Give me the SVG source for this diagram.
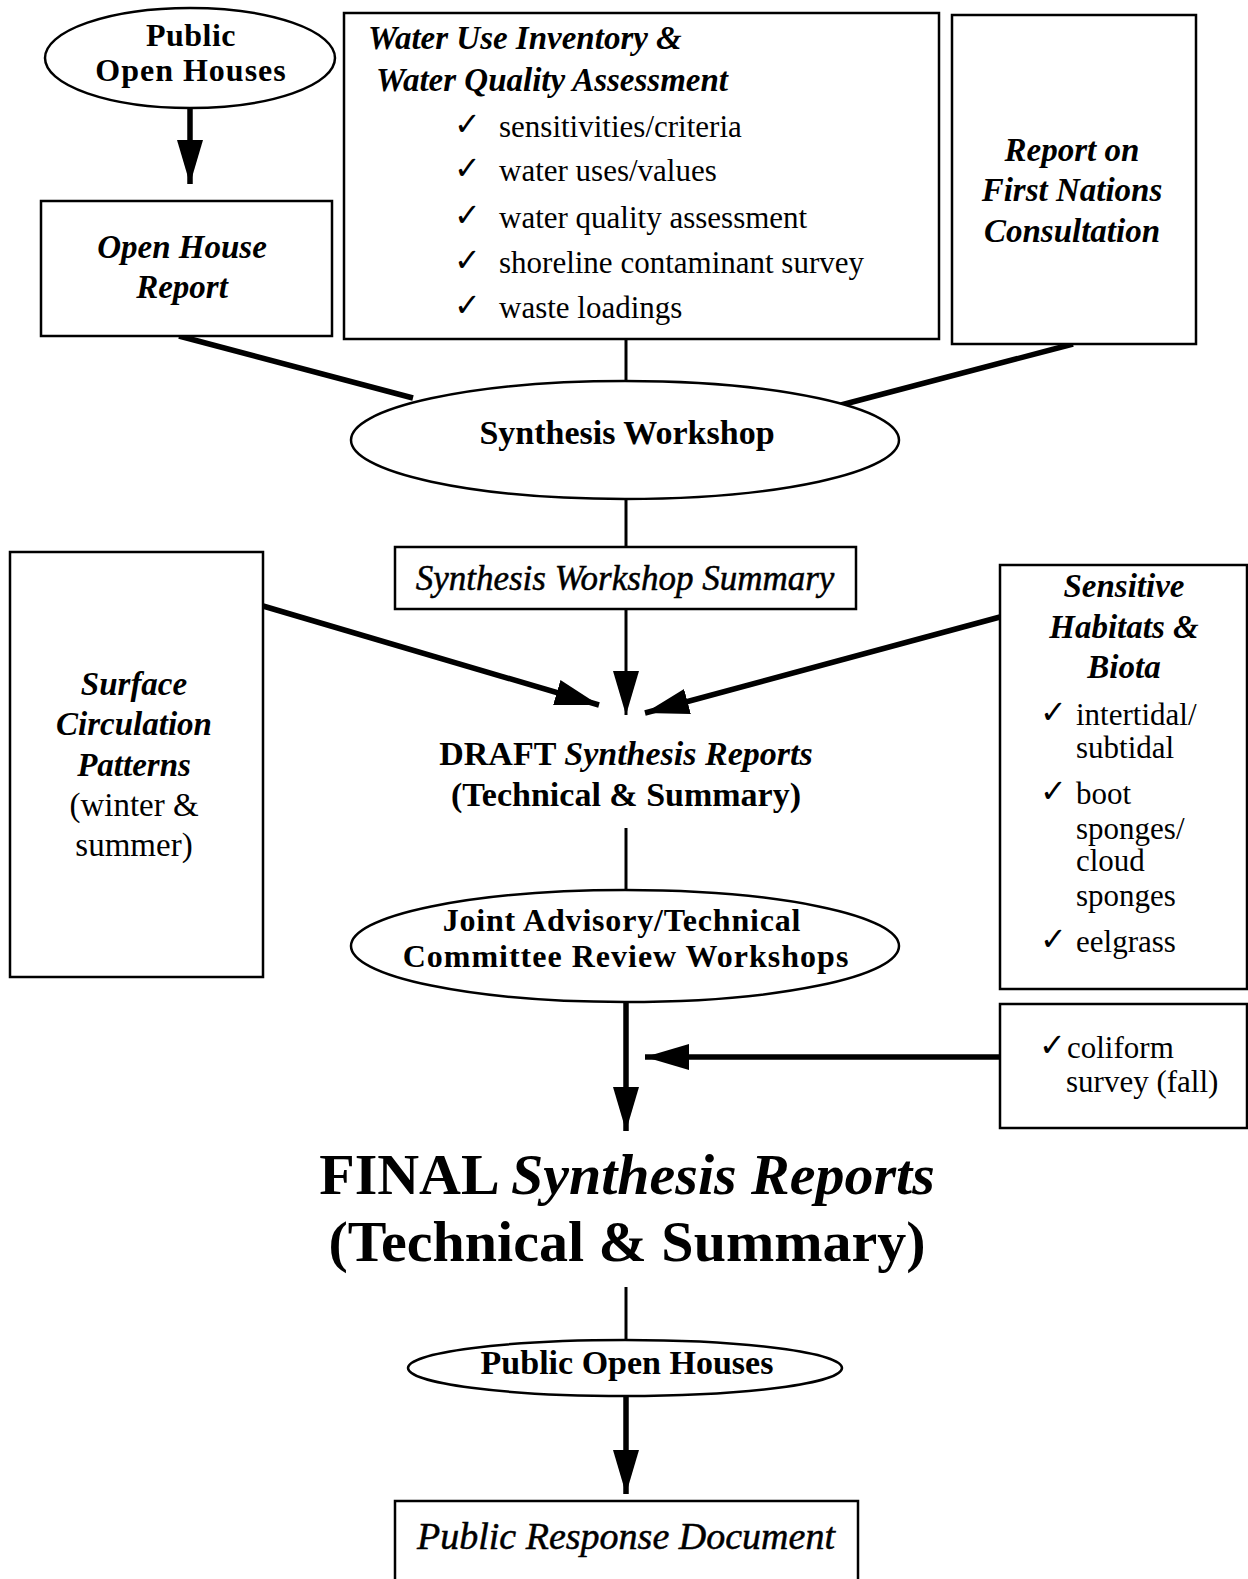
<svg xmlns="http://www.w3.org/2000/svg" width="1248" height="1579" viewBox="0 0 1248 1579">
<style>
  .box { fill: #fff; stroke: #000; stroke-width: 2.5; }
  .ell { fill: #fff; stroke: #000; stroke-width: 2.5; }
  .t { font-family: "Liberation Serif", "Times New Roman", serif; fill: #000; }
  .bi { font-weight: bold; font-style: italic; }
  .b { font-weight: bold; }
  .i { font-style: italic; }
  .chk { font-family: "DejaVu Sans", sans-serif; font-size: 32px; }
  .thick { stroke: #000; stroke-width: 5.5; fill: none; }
  .thin { stroke: #000; stroke-width: 3; fill: none; }
</style>
<defs>
  <marker id="ah" markerUnits="userSpaceOnUse" markerWidth="46" markerHeight="28" refX="44" refY="13" orient="auto">
    <path d="M0,0 L44,13 L0,26 z" fill="#000"/>
  </marker>
</defs>
<rect width="1248" height="1579" fill="#fff"/>

<g id="connectors">
  <line class="thick" x1="190" y1="108" x2="190" y2="184" marker-end="url(#ah)"/>
  <line class="thick" x1="179" y1="336" x2="413" y2="398"/>
  <line class="thin" x1="626" y1="339" x2="626" y2="381"/>
  <line class="thick" x1="1073" y1="344" x2="841" y2="405"/>
  <line class="thin" x1="626" y1="499" x2="626" y2="547"/>
  <line class="thin" x1="626" y1="609" x2="626" y2="715" marker-end="url(#ah)"/>
  <line class="thick" x1="263" y1="606" x2="599" y2="705" marker-end="url(#ah)"/>
  <line class="thick" x1="1000" y1="617" x2="645" y2="713" marker-end="url(#ah)"/>
  <line class="thin" x1="626" y1="828" x2="626" y2="890"/>
  <line class="thick" x1="626" y1="1002" x2="626" y2="1131" marker-end="url(#ah)"/>
  <line class="thick" x1="1000" y1="1057" x2="645" y2="1057" marker-end="url(#ah)"/>
  <line class="thin" x1="626" y1="1287" x2="626" y2="1340"/>
  <line class="thick" x1="626" y1="1396" x2="626" y2="1494" marker-end="url(#ah)"/>
</g>

<g id="public-open-houses-top">
  <ellipse class="ell" cx="190" cy="58" rx="145" ry="50"/>
  <text class="t b" font-size="32" letter-spacing="0.5" text-anchor="middle" x="191" y="46">Public</text>
  <text class="t b" font-size="32" letter-spacing="1" text-anchor="middle" x="191" y="81">Open Houses</text>
</g>

<g id="open-house-report">
  <rect class="box" x="41" y="201" width="291" height="135"/>
  <text class="t bi" font-size="33" text-anchor="middle" x="182" y="258">Open House</text>
  <text class="t bi" font-size="33" text-anchor="middle" x="182" y="298">Report</text>
</g>

<g id="water-use">
  <rect class="box" x="344" y="13" width="595" height="326"/>
  <text class="t bi" font-size="33" x="368" y="49">Water Use Inventory &amp;</text>
  <text class="t bi" font-size="33" x="376" y="91">Water Quality Assessment</text>
  <text class="t chk" x="454" y="135">✓</text>
  <text class="t" font-size="31" x="499" y="137">sensitivities/criteria</text>
  <text class="t chk" x="454" y="179">✓</text>
  <text class="t" font-size="31" x="499" y="181">water uses/values</text>
  <text class="t chk" x="454" y="226">✓</text>
  <text class="t" font-size="31" x="499" y="228">water quality assessment</text>
  <text class="t chk" x="454" y="271">✓</text>
  <text class="t" font-size="31" x="499" y="273">shoreline contaminant survey</text>
  <text class="t chk" x="454" y="316">✓</text>
  <text class="t" font-size="31" x="499" y="318">waste loadings</text>
</g>

<g id="first-nations">
  <rect class="box" x="952" y="15" width="244" height="329"/>
  <text class="t bi" font-size="33" text-anchor="middle" x="1072" y="161">Report on</text>
  <text class="t bi" font-size="33" text-anchor="middle" x="1072" y="201">First Nations</text>
  <text class="t bi" font-size="33" text-anchor="middle" x="1072" y="242">Consultation</text>
</g>

<g id="synthesis-workshop">
  <ellipse class="ell" cx="625" cy="440" rx="274" ry="59"/>
  <text class="t b" font-size="34" text-anchor="middle" x="627" y="444">Synthesis Workshop</text>
</g>

<g id="synthesis-workshop-summary">
  <rect class="box" x="395" y="547" width="461" height="62"/>
  <text class="t i" font-size="35" stroke="#000" stroke-width="0.5" text-anchor="middle" x="625" y="590">Synthesis Workshop Summary</text>
</g>

<g id="surface-circulation">
  <rect class="box" x="10" y="552" width="253" height="425"/>
  <text class="t bi" font-size="33" text-anchor="middle" x="134" y="695">Surface</text>
  <text class="t bi" font-size="33" text-anchor="middle" x="134" y="735">Circulation</text>
  <text class="t bi" font-size="33" text-anchor="middle" x="134" y="776">Patterns</text>
  <text class="t" font-size="33" text-anchor="middle" x="134" y="816">(winter &amp;</text>
  <text class="t" font-size="33" text-anchor="middle" x="134" y="856">summer)</text>
</g>

<g id="sensitive-habitats">
  <rect class="box" x="1000" y="565" width="247" height="424"/>
  <text class="t bi" font-size="33" text-anchor="middle" x="1124" y="597">Sensitive</text>
  <text class="t bi" font-size="33" text-anchor="middle" x="1124" y="638">Habitats &amp;</text>
  <text class="t bi" font-size="33" text-anchor="middle" x="1124" y="678">Biota</text>
  <text class="t chk" x="1040" y="723">✓</text>
  <text class="t" font-size="31" x="1076" y="725">intertidal/</text>
  <text class="t" font-size="31" x="1076" y="758">subtidal</text>
  <text class="t chk" x="1040" y="802">✓</text>
  <text class="t" font-size="31" x="1076" y="804">boot</text>
  <text class="t" font-size="31" x="1076" y="839">sponges/</text>
  <text class="t" font-size="31" x="1076" y="871">cloud</text>
  <text class="t" font-size="31" x="1076" y="906">sponges</text>
  <text class="t chk" x="1040" y="950">✓</text>
  <text class="t" font-size="31" x="1076" y="952">eelgrass</text>
</g>

<g id="draft-reports">
  <text class="t b" font-size="34" text-anchor="middle" x="626" y="765">DRAFT <tspan class="bi" font-weight="normal">Synthesis Reports</tspan></text>
  <text class="t b" font-size="34" text-anchor="middle" x="626" y="806">(Technical &amp; Summary)</text>
</g>

<g id="joint-review">
  <ellipse class="ell" cx="625" cy="946" rx="274" ry="56"/>
  <text class="t b" font-size="32" letter-spacing="0.8" text-anchor="middle" x="622" y="931">Joint Advisory/Technical</text>
  <text class="t b" font-size="32" letter-spacing="1" text-anchor="middle" x="626" y="967">Committee Review Workshops</text>
</g>

<g id="coliform">
  <rect class="box" x="1000" y="1004" width="247" height="124"/>
  <text class="t chk" x="1039" y="1056">✓</text>
  <text class="t" font-size="31" x="1067" y="1058">coliform</text>
  <text class="t" font-size="31" x="1066" y="1092">survey (fall)</text>
</g>

<g id="final-reports">
  <text class="t b" font-size="58" text-anchor="middle" x="627" y="1194">FINAL <tspan class="bi">Synthesis Reports</tspan></text>
  <text class="t b" font-size="58" text-anchor="middle" x="627" y="1261">(Technical &amp; Summary)</text>
</g>

<g id="public-open-houses-bottom">
  <ellipse class="ell" cx="625" cy="1368" rx="217" ry="28"/>
  <text class="t b" font-size="34" text-anchor="middle" x="627" y="1374">Public Open Houses</text>
</g>

<g id="public-response">
  <rect class="box" x="395" y="1501" width="463" height="84"/>
  <text class="t i" font-size="38" stroke="#000" stroke-width="0.5" text-anchor="middle" x="626" y="1549">Public Response Document</text>
</g>
</svg>
